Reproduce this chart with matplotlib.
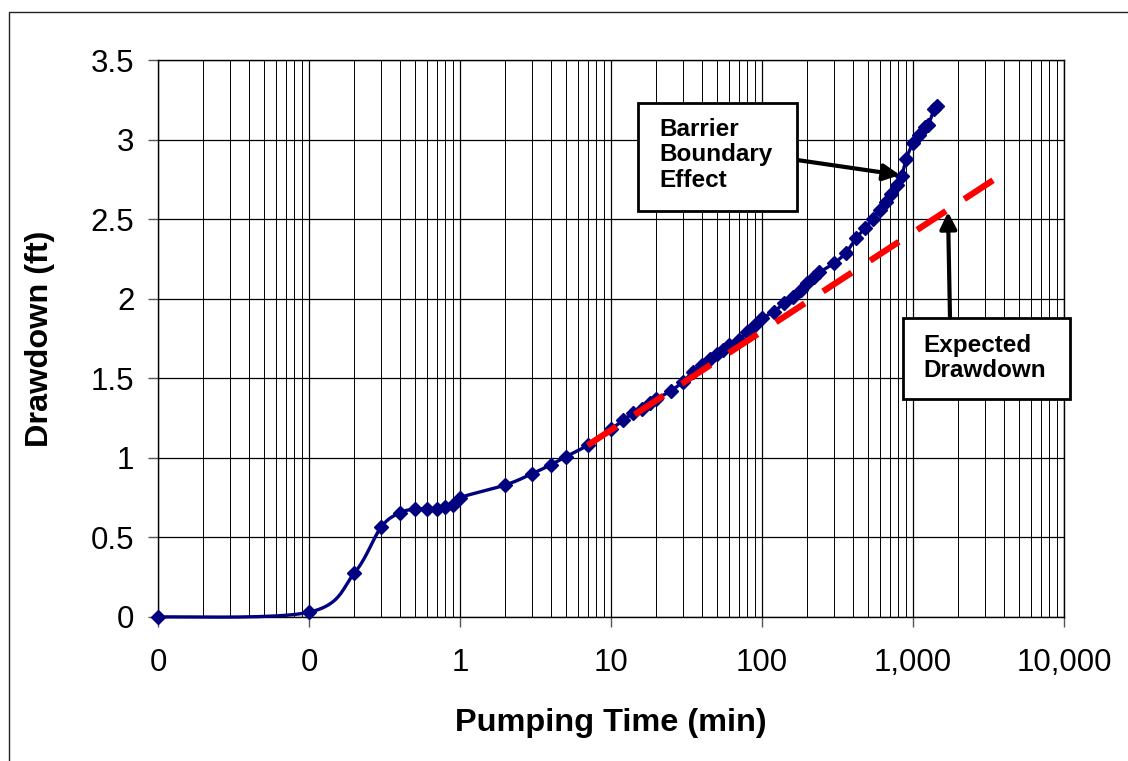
import matplotlib
matplotlib.use("Agg")
import matplotlib.pyplot as plt
import numpy as np
from matplotlib.ticker import FuncFormatter, LogLocator, MultipleLocator
from matplotlib.patches import Rectangle

plt.rcParams['font.family'] = ['Liberation Sans', 'DejaVu Sans']

# pumping test data (time in minutes, drawdown in ft)
time_min = [0.01, 0.1, 0.2, 0.3, 0.4, 0.5, 0.6, 0.7, 0.8, 0.9, 1, 2, 3, 4, 5, 7,
            10, 12, 14, 16, 18, 20, 25, 30, 35, 40, 45, 50, 55, 60, 70, 80, 90,
            100, 120, 140, 160, 180, 200, 220, 240, 300, 360, 420, 480, 540, 600,
            660, 720, 780, 840, 900, 1000, 1100, 1200, 1260, 1380, 1440]
drawdown_ft = [0.0, 0.03, 0.277, 0.564, 0.655, 0.677, 0.679, 0.679, 0.689, 0.704,
               0.75, 0.83, 0.90, 0.957, 1.006, 1.079, 1.18, 1.236, 1.28, 1.309,
               1.347, 1.37, 1.422, 1.479, 1.542, 1.584, 1.62, 1.65, 1.68, 1.71,
               1.741, 1.793, 1.835, 1.877, 1.919, 1.972, 2.013, 2.055, 2.097,
               2.139, 2.166, 2.223, 2.29, 2.38, 2.443, 2.50, 2.558, 2.61, 2.659,
               2.715, 2.768, 2.877, 2.977, 3.03, 3.08, 3.09, 3.19, 3.21]

# straight-line (Cooper-Jacob) projection
expected_t = [7, 3700]
expected_dd = [1.079, 2.768]

x_ticks = [0.01, 0.1, 1, 10, 100, 1000, 10000]
y_ticks = [0, 0.5, 1, 1.5, 2, 2.5, 3, 3.5]


def smooth_curve(x, y, xscale=151.0, yscale=159.0, n=20):
    """Excel-like smoothed line (Catmull-Rom bezier) in screen-like space."""
    u = np.log10(np.asarray(x, float)) * xscale
    v = np.asarray(y, float) * yscale
    pts = np.column_stack([u, v])
    pts = np.vstack([pts[0], pts, pts[-1]])
    out = []
    s = np.linspace(0, 1, n, endpoint=False)[:, None]
    for i in range(1, len(pts) - 2):
        p0, p1, p2, p3 = pts[i - 1], pts[i], pts[i + 1], pts[i + 2]
        c1 = p1 + (p2 - p0) / 6.0
        c2 = p2 - (p3 - p1) / 6.0
        seg = ((1 - s) ** 3) * p1 + 3 * ((1 - s) ** 2) * s * c1 + 3 * (1 - s) * s ** 2 * c2 + s ** 3 * p2
        out.append(seg)
    out.append(pts[-2][None, :])
    out = np.vstack(out)
    return 10 ** (out[:, 0] / xscale), out[:, 1] / yscale


fig = plt.figure(figsize=(11.28, 7.61), dpi=100)
ax = fig.add_axes([158 / 1128, 1 - 617 / 761, 906 / 1128, 557 / 761])

# outer chart border
fig.patches.append(Rectangle((9 / 1128, -0.1), 1.2, 1 - 12 / 761 + 0.1,
                             transform=fig.transFigure, fill=False,
                             edgecolor='#222222', linewidth=1.0))

ax.set_xscale('log')
ax.set_xlim(0.01, 10000)
ax.set_ylim(0, 3.5)

ax.xaxis.set_major_locator(LogLocator(base=10, numticks=20))
ax.xaxis.set_minor_locator(LogLocator(base=10, subs=np.arange(2, 10), numticks=20))
ax.set_xticks(x_ticks)
ax.yaxis.set_major_locator(MultipleLocator(0.5))
ax.set_yticks(y_ticks)
ax.xaxis.set_major_formatter(FuncFormatter(lambda v, p: f"{v:,.0f}"))
ax.yaxis.set_major_formatter(FuncFormatter(lambda v, p: f"{v:g}"))

ax.grid(True, which='major', axis='both', color='black', linewidth=0.9)
ax.grid(True, which='minor', axis='x', color='black', linewidth=0.7)
ax.set_axisbelow(True)

ax.tick_params(axis='both', which='major', direction='out', length=7,
               width=1, color='#555555', labelsize=22.5, pad=10)
ax.tick_params(axis='x', which='minor', length=0)
ax.tick_params(axis='x', pad=15)
for sp in ax.spines.values():
    sp.set_color('black')
    sp.set_linewidth(1.0)

sx, sy = smooth_curve(time_min, drawdown_ft)
ax.plot(sx, sy, color='#000080', linewidth=2.4, zorder=3, clip_on=False)
ax.plot(time_min, drawdown_ft, linestyle='none', marker='D', markersize=7.5,
        color='#000080', zorder=4, clip_on=False)

ax.plot(expected_t, expected_dd, color='#ff0000', linewidth=4.5,
        dashes=(5.5, 3.5), solid_capstyle='butt', dash_capstyle='butt', zorder=5)

ax.set_xlabel('Pumping Time (min)', fontsize=23.4, fontweight='bold', labelpad=22)
ax.set_ylabel('Drawdown (ft)', fontsize=23.4, fontweight='bold', labelpad=26)

# annotation boxes
fig.patches.append(Rectangle((638 / 1128, 1 - 211 / 761), 159 / 1128, 108 / 761,
                             transform=fig.transFigure, facecolor='white',
                             edgecolor='black', linewidth=2.0, zorder=6))
fig.text(659 / 1128, 1 - 155 / 761, 'Barrier\nBoundary\nEffect', fontsize=17.5,
         fontweight='bold', va='center', ha='left', linespacing=1.12, zorder=7)

fig.patches.append(Rectangle((903 / 1128, 1 - 399 / 761), 167 / 1128, 81 / 761,
                             transform=fig.transFigure, facecolor='white',
                             edgecolor='black', linewidth=2.0, zorder=6))
fig.text(923 / 1128, 1 - 358 / 761, 'Expected\nDrawdown', fontsize=17.5,
         fontweight='bold', va='center', ha='left', linespacing=1.12, zorder=7)

arrow_kw = dict(arrowstyle='-|>,head_length=1.0,head_width=0.5', color='black',
                linewidth=3, shrinkA=0, shrinkB=0)
ax.annotate('', xy=(900 / 1128, 1 - 175 / 761), xycoords='figure fraction',
            xytext=(797 / 1128, 1 - 160 / 761), textcoords='figure fraction',
            arrowprops=arrow_kw, zorder=8)
ax.annotate('', xy=(948 / 1128, 1 - 212 / 761), xycoords='figure fraction',
            xytext=(950 / 1128, 1 - 318 / 761), textcoords='figure fraction',
            arrowprops=arrow_kw, zorder=8)

fig.savefig('out.png', dpi=100)
